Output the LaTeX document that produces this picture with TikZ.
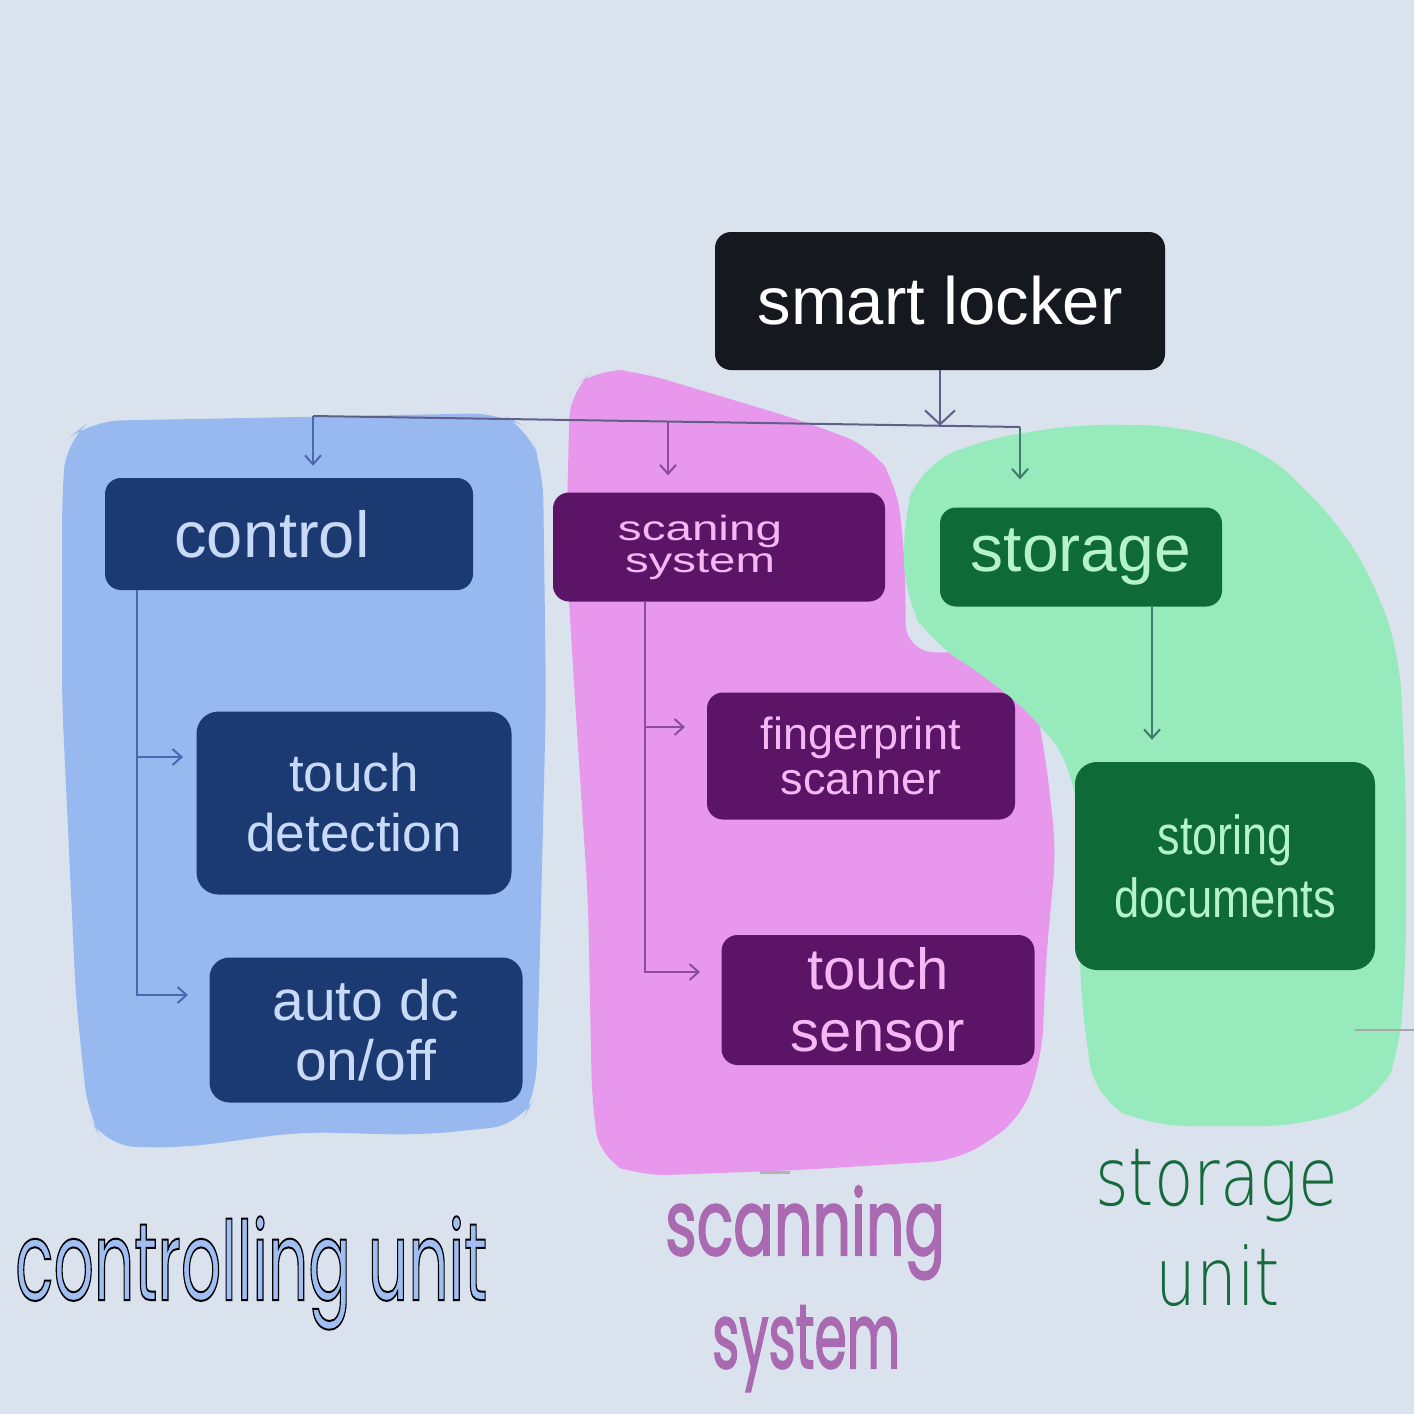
\documentclass[tikz,border=0pt]{standalone}
\usepackage{fontspec}
\usepackage{graphicx}
\setmainfont{Liberation Sans}
\newfontfamily\popfont{Poppins}
\newfontfamily\popboldfont{Poppins}[FakeBold=2.2]
\newfontfamily\popoutlinefont{Poppins}[FakeBold=1.8]
\newfontfamily\thinlabelfont{DejaVu Sans ExtraLight}
\usetikzlibrary{arrows.meta}
\definecolor{bg}{HTML}{DAE2EE}
\definecolor{blueblob}{HTML}{98B8F0}
\definecolor{pinkblob}{HTML}{E898EC}
\definecolor{greenblob}{HTML}{96EABC}
\definecolor{lockerbox}{HTML}{16181F}
\definecolor{navybox}{HTML}{1C3A72}
\definecolor{navytext}{HTML}{C8DAF8}
\definecolor{purplebox}{HTML}{5C1466}
\definecolor{purpletext}{HTML}{F4B8F4}
\definecolor{greenbox}{HTML}{0E6A36}
\definecolor{greentext}{HTML}{B4F4C8}
\definecolor{busline}{HTML}{5E6088}
\definecolor{blueline}{HTML}{4A68B0}
\definecolor{purpleline}{HTML}{8C4C9C}
\definecolor{greenline}{HTML}{3F7A6A}
\definecolor{cufill}{HTML}{A0BEF2}
\definecolor{scanlabel}{HTML}{A96AB1}
\definecolor{storlabel}{HTML}{146A3A}
\begin{document}
\begin{tikzpicture}[x=1pt,y=-1pt,
  boxstyle/.style={rectangle, rounded corners=16pt, inner sep=0pt, align=center},
  lockerstyle/.style={boxstyle, fill=lockerbox, text=white},
  navystyle/.style={boxstyle, fill=navybox, text=navytext},
  purplestyle/.style={boxstyle, fill=purplebox, text=purpletext},
  greenstyle/.style={boxstyle, fill=greenbox, text=greentext},
  arrtip/.style={-{Straight Barb[length=9pt,width=16pt,line width=2pt]}},
  bigtip/.style={-{Straight Barb[length=14pt,width=30pt,line width=2pt]}},
  labelstyle/.style={anchor=base west, inner sep=0pt}
]
\useasboundingbox (0,0) rectangle (1414,1414);
\fill[bg] (0,0) rectangle (1414,1414);

% highlight blobs
\fill[blueblob, rounded corners=30pt]
 (66,440) -- (90,421) -- (300,417) -- (500,413) -- (528,428) -- (543,470) -- (546,700)
 -- (540,950) -- (536,1095) -- (520,1125) -- (420,1135) -- (300,1132) -- (180,1148)
 -- (105,1146) -- (88,1115) -- (76,1000) -- (62,700) -- (62,500) -- cycle;
\fill[pinkblob, rounded corners=28pt]
 (570,390) -- (598,368) -- (640,372) -- (700,390) -- (800,420) -- (872,447) -- (897,485)
 -- (905,560) -- (906,652) -- (1000,653) -- (1032,685) -- (1046,760) -- (1056,850)
 -- (1046,960) -- (1042,1055) -- (1022,1118) -- (960,1160) -- (800,1170) -- (640,1176)
 -- (600,1160) -- (592,1100) -- (588,900) -- (575,700) -- (566,550) -- cycle;
\fill[greenblob, rounded corners=36pt]
 (903,520) -- (918,468) -- (980,440) -- (1080,424) -- (1180,426) -- (1265,450)
 -- (1340,525) -- (1378,590) -- (1400,660) -- (1406,800) -- (1406,950) -- (1400,1050)
 -- (1380,1100) -- (1300,1126) -- (1150,1126) -- (1095,1100) -- (1081,1000)
 -- (1078,850) -- (1075,772) -- (1040,722) -- (980,672) -- (930,642) -- (905,600) -- cycle;

% small grey marks
\draw[line width=2pt, color=gray!70] (1355,1030) -- (1414,1030);
\draw[line width=3pt, color=gray!60] (760,1172) -- (790,1172);

% boxes
\node[lockerstyle, minimum width=450pt, minimum height=138pt,
      font=\fontsize{67}{67}\selectfont] (locker) at (940,301) {smart locker};
\node[navystyle, minimum width=368pt, minimum height=112pt,
      font=\fontsize{65}{65}\selectfont] (control) at (289,534) {control\hspace*{34pt}};
\node[navystyle, rounded corners=22pt, minimum width=315pt, minimum height=183pt,
      font=\fontsize{53}{60}\selectfont] (touchdet) at (354,803) {touch\\detection};
\node[navystyle, rounded corners=20pt, minimum width=313pt, minimum height=145pt,
      font=\fontsize{57}{60}\selectfont] (autodc) at (366,1030) {auto dc\\on/off};
\node[purplestyle, minimum width=332pt, minimum height=109pt,
      font=\fontsize{35}{32}\selectfont] (scan) at (719,547)
      {\resizebox{164pt}{\height}{scaning}\hspace*{38pt}\\\resizebox{150pt}{\height}{system}\hspace*{38pt}};
\node[purplestyle, minimum width=308pt, minimum height=127pt,
      font=\fontsize{45}{45}\selectfont] (finger) at (861,756) {fingerprint\\scanner};
\node[purplestyle, minimum width=313pt, minimum height=130pt,
      font=\fontsize{58}{62}\selectfont] (touchsens) at (878,1000) {touch\\sensor};
\node[greenstyle, minimum width=282pt, minimum height=99pt,
      font=\fontsize{66}{66}\selectfont] (storage) at (1081,557) {storage};
\node[greenstyle, rounded corners=22pt, minimum width=300pt, minimum height=208pt,
      font=\fontsize{55}{63}\selectfont] (storing) at (1225,866)
      {\resizebox{135pt}{\height}{storing}\\\resizebox{222pt}{\height}{documents}};

% bus
\coordinate (bL) at (313,416);
\coordinate (bS) at (668,421.5);
\coordinate (bM) at (940,425.7);
\coordinate (bR) at (1020,427);
\draw[busline, line width=2pt] (bL) -- (bR);
\draw[busline, line width=2pt, bigtip] (locker.south) -- (bM);
\draw[blueline, line width=2pt, arrtip, shorten >=12pt] (bL) -- (bL |- control.north);
\draw[purpleline, line width=2pt, arrtip, shorten >=17pt] (bS) -- (bS |- scan.north);
\draw[greenline, line width=2pt, arrtip, shorten >=28pt] (bR) -- (bR |- storage.north);

% control branches
\coordinate (ctd) at (183,757);
\coordinate (cad) at (188,995);
\draw[blueline, line width=2pt, arrtip] ([xshift=-152pt]control.south) |- (ctd);
\draw[blueline, line width=2pt, arrtip] ([xshift=-152pt]control.south) |- (cad);

% scanning branches
\coordinate (sfp) at (685,727);
\coordinate (sts) at (700,972);
\draw[purpleline, line width=2pt, arrtip] ([xshift=-74pt]scan.south) |- (sfp);
\draw[purpleline, line width=2pt, arrtip] ([xshift=-74pt]scan.south) |- (sts);

% storage branch
\draw[greenline, line width=2pt, arrtip, shorten >=22pt] ([xshift=71pt]storage.south) -- ([xshift=71pt]storage.south |- storing.north);

% bottom labels
\node[labelstyle, text=cufill] (culabel) at (15,1300)
  {\resizebox{472pt}{\height}{\special{pdf:code 0 0 0 RG}\popoutlinefont\fontsize{110}{110}\selectfont controlling unit}};

\node[labelstyle, text=scanlabel] (scanlabel1) at (665,1255)
  {\resizebox{280pt}{\height}{\popboldfont\fontsize{91}{91}\selectfont scanning}};
\node[labelstyle, text=scanlabel] (scanlabel2) at (712,1368)
  {\resizebox{188pt}{\height}{\popboldfont\fontsize{91}{91}\selectfont system}};

\node[labelstyle, text=storlabel] (storlabel1) at (1095,1205)
  {\resizebox{243pt}{\height}{\thinlabelfont\fontsize{80}{80}\selectfont storage}};
\node[labelstyle, text=storlabel] (storlabel2) at (1155,1305)
  {\resizebox{125pt}{\height}{\thinlabelfont\fontsize{80}{80}\selectfont unit}};
\end{tikzpicture}
\end{document}
